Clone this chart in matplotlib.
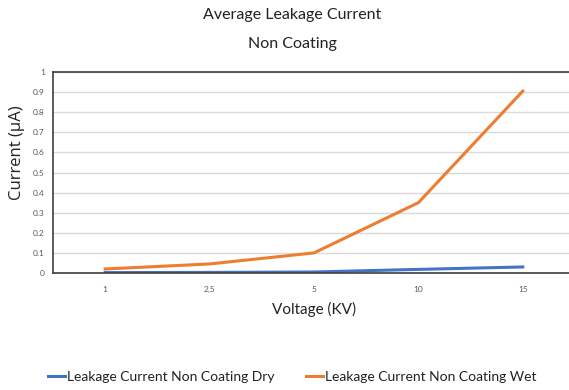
import matplotlib.pyplot as plt
import numpy as np

voltages = ["1", "2,5", "5", "10", "15"]
dry = [0.002, 0.003, 0.005, 0.018, 0.03]
wet = [0.02, 0.045, 0.1, 0.35, 0.905]

BLUE = "#4472c4"
ORANGE = "#ed7d31"

plt.rcParams["font.family"] = ["Lato", "DejaVu Sans"]

fig = plt.figure(figsize=(5.69, 3.9), dpi=100)
# axes box in pixels: left 53, right ~575 (cut off), top 72, bottom 273
ax = fig.add_axes([53 / 569, (390 - 273) / 390, 522 / 569, 201 / 390])

x = np.arange(len(voltages))
ax.plot(x, dry, color=BLUE, linewidth=2.2, label="Leakage Current Non Coating Dry")
ax.plot(x, wet, color=ORANGE, linewidth=2.2, label="Leakage Current Non Coating Wet")

ax.set_xlim(-0.5, len(voltages) - 0.5)
ax.set_ylim(0, 1)
ax.set_xticks(x)
ax.set_xticklabels(voltages)
ax.set_yticks(np.arange(0, 1.01, 0.1))
ax.set_yticklabels(["0", "0.1", "0.2", "0.3", "0.4", "0.5", "0.6", "0.7", "0.8", "0.9", "1"])
ax.tick_params(length=0, labelsize=6, colors="#595959", pad=6)
ax.tick_params(axis="x", pad=9)

ax.grid(axis="y", color="#d9d9d9", linewidth=1)
ax.set_axisbelow(True)
for side in ["left", "bottom", "top"]:
    ax.spines[side].set_color("#404040")
    ax.spines[side].set_linewidth(1.2)
ax.spines["right"].set_visible(False)

fig.text(292 / 569, 1 - 15 / 390, "Average Leakage Current", ha="center", va="center", fontsize=11.5, color="#222222")
fig.text(292 / 569, 1 - 44 / 390, "Non Coating", ha="center", va="center", fontsize=11.5, color="#222222")

fig.text(17 / 569, 1 - 153 / 390, "Current (μA)", rotation=90, ha="center", va="center",
         fontsize=12, color="#222222", family=["Open Sans", "DejaVu Sans"])
fig.text(314 / 569, 1 - 309 / 390, "Voltage (KV)", ha="center", va="center", fontsize=11, color="#222222")

fig.legend(loc="center", bbox_to_anchor=(292 / 569, 1 - 377 / 390), ncol=2, frameon=False,
           fontsize=10, handlelength=1.25, handletextpad=0.1, columnspacing=2.3,
           labelcolor="#222222")

fig.savefig("out.png", dpi=100)
